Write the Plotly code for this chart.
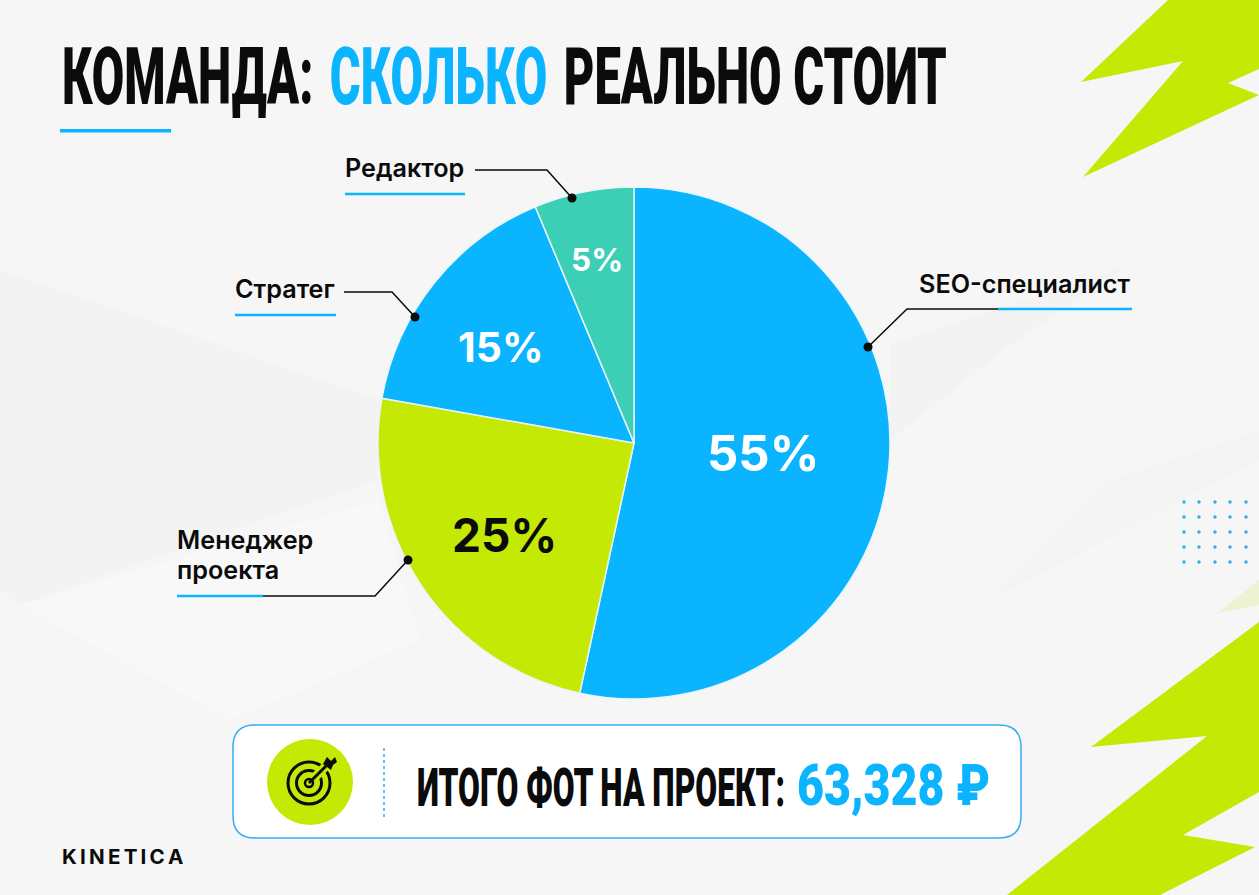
import json

import plotly.graph_objects as go

# shares are measured off the drawn slices, the printed labels do not quite agree with them
roles = ['SEO-специалист', 'Менеджер проекта', 'Стратег', 'Редактор']
slice_shares = [53.4, 24.4, 15.9, 6.3]
pct_labels = ['55%', '25%', '15%', '5%']
total_label = 'ИТОГО ФОТ НА ПРОЕКТ:'
total_value = '63,328 ₽'

BLUE = '#0bb4ff'
GREEN = '#c4e905'
TEAL = '#3ccfb5'
INK = '#0b0b0b'
HEAVY = 'Roboto'
BODY = 'Inter'

dot_x = [1184, 1199, 1215, 1230, 1246]
dot_y = [502, 517, 532, 547, 562]


def poly(points, color, layer='below'):
    path = 'M' + ' L'.join(f'{x},{y}' for x, y in points) + ' Z'
    return dict(type='path', path=path, fillcolor=color, line_width=0, layer=layer)


def line(points, color=INK, width=1.5, dash='solid'):
    path = 'M' + ' L'.join(f'{x},{y}' for x, y in points)
    return dict(type='path', path=path, line=dict(color=color, width=width, dash=dash), layer='above')


def circle(cx, cy, r, fill='rgba(0,0,0,0)', edge=INK, width=0):
    return dict(type='circle', x0=cx - r, x1=cx + r, y0=cy - r, y1=cy + r, fillcolor=fill,
                line=dict(color=edge, width=width), layer='above')


def label(x, y, text, size, color=INK, anchor='left', family=BODY, weight=600):
    return dict(x=x, y=y, text=text, showarrow=False, xanchor=anchor, yanchor='middle', align='left',
                font=dict(family=family, size=size, color=color, weight=weight))


fig = go.Figure()

fig.add_trace(go.Scatter(
    x=[x for x in dot_x for y in dot_y], y=[y for x in dot_x for y in dot_y],
    mode='markers', marker=dict(color='#35aee6', size=3.5), hoverinfo='skip', showlegend=False))

fig.add_trace(go.Pie(
    labels=roles, values=slice_shares, sort=False, direction='clockwise', rotation=0,
    marker=dict(colors=[BLUE, GREEN, BLUE, TEAL], line=dict(color='#e8f6f6', width=1.5)),
    textinfo='none', hoverinfo='label', showlegend=False,
    domain=dict(x=[378 / 1259, 890 / 1259], y=[(895 - 700) / 895, (895 - 186) / 895])))

shapes = [
    # faint facets of the background
    poly([(0, 270), (380, 400), (378, 480), (20, 605), (0, 590)], '#f3f3f3'),
    poly([(20, 605), (378, 500), (420, 640), (230, 720)], '#f8f8f8'),
    poly([(890, 345), (1130, 265), (1010, 345), (890, 440)], '#f3f3f3'),
    poly([(1259, 430), (1110, 480), (990, 600), (1259, 460)], '#f4f4f4'),
    # lightning corners
    poly([(1168, 0), (1259, 0), (1259, 69), (1228, 83), (1259, 95), (1083, 177), (1183, 61), (1081, 82)], GREEN),
    poly([(1259, 622), (1091, 747), (1207, 736), (1007, 895), (1160, 895), (1255, 847), (1183, 835), (1259, 792)], GREEN),
    poly([(1259, 580), (1218, 613), (1259, 605)], '#eef2d0'),
    # title rule
    dict(type='rect', x0=60, x1=171, y0=129, y1=132.5, fillcolor=BLUE, line_width=0, layer='above'),
    # total box
    dict(type='path', layer='above', fillcolor='white', line=dict(color='#35aef0', width=1.5),
         path='M255,725 L999,725 Q1021,725 1021,747 L1021,816 Q1021,838 999,838 L255,838 '
              'Q233,838 233,816 L233,747 Q233,725 255,725 Z'),
    line([(384, 748), (384, 819)], color='#35aee6', width=1.5, dash='dot'),
    circle(310, 782, 43, fill=GREEN),
    circle(309, 783, 21, edge=INK, width=3),
    circle(309, 783, 12.5, edge=INK, width=3),
    circle(309, 783, 4, edge=INK, width=2.5),
    line([(313, 779), (334, 758)], color=GREEN, width=9),
    line([(309, 783), (326, 766)], width=3),
    poly([(323, 764), (327, 757), (331, 761), (335, 757), (337, 762), (333, 765), (331, 770)], INK, layer='above'),
    # leaders
    line([(475, 170), (547, 170), (572, 198)]),
    circle(572, 198, 4.5, fill=INK),
    line([(344, 292), (392, 292), (415, 317)]),
    circle(415, 317, 4.5, fill=INK),
    line([(998, 309), (907, 309), (868, 347)]),
    circle(868, 347, 4.5, fill=INK),
    line([(263, 596), (375, 596), (408, 560)]),
    circle(408, 560, 4.5, fill=INK),
    # blue rules under the role names
    line([(345, 194), (465, 194)], color=BLUE, width=2.5),
    line([(235, 315), (336, 315)], color=BLUE, width=2.5),
    line([(998, 309), (1132, 309)], color=BLUE, width=2.5),
    line([(177, 596), (263, 596)], color=BLUE, width=2.5),
]

annotations = [
    label(60, 77, f'КОМАНДА:\u200a <span style="color:{BLUE}">СКОЛЬКО</span>\u200a РЕАЛЬНО СТОИТ', 80,
          family=HEAVY, weight=900),
    label(917, 284, roles[0], 25.2),
    label(175, 540, roles[1].split()[0], 25.2),
    label(175, 570, roles[1].split()[1], 25.2),
    label(233, 289, roles[2], 25.2),
    label(343, 168, roles[3], 25.2),
    label(763, 453, pct_labels[0], 49, color='white', anchor='center', weight=700),
    label(504, 535, pct_labels[1], 46, anchor='center', weight=700),
    label(501, 347, pct_labels[2], 41, color='white', anchor='center', weight=700),
    label(597, 259, pct_labels[3], 31.5, color='white', anchor='center', weight=700),
    label(415, 787, total_label, 54, family=HEAVY, weight=900),
    label(795, 785, total_value, 58, color=BLUE, family=HEAVY, weight=900),
    label(60, 857, 'K\u2009I\u2009N\u2009E\u2009T\u2009I\u2009C\u2009A', 19.5, weight=700),
]

# no condensed face is installed, so these texts get squeezed to the width they have in the picture
fit_widths = {0: 885, 10: 368, 11: 193, 12: 122}
squeeze = """
var fit = %s;
document.body.style.margin = '0';
document.querySelectorAll('.annotation').forEach(function (g) {
    var w = fit[g.getAttribute('data-index')];
    if (!w) return;
    var t = g.querySelector('text');
    var box = t.getBBox();
    var sx = w / box.width;
    t.setAttribute('transform', 'translate(' + box.x + ',0) scale(' + sx + ',1) translate(' + (-box.x) + ',0)');
});
""" % json.dumps(fit_widths)

fig.update_layout(
    width=1259, height=895, margin=dict(l=0, r=0, t=0, b=0),
    paper_bgcolor='#f6f6f6', plot_bgcolor='rgba(0,0,0,0)',
    xaxis=dict(range=[0, 1259], visible=False, fixedrange=True),
    yaxis=dict(range=[895, 0], visible=False, fixedrange=True),
    shapes=shapes, annotations=annotations)

fig.write_html("out.html", post_script=squeeze, config=dict(displayModeBar=False))
